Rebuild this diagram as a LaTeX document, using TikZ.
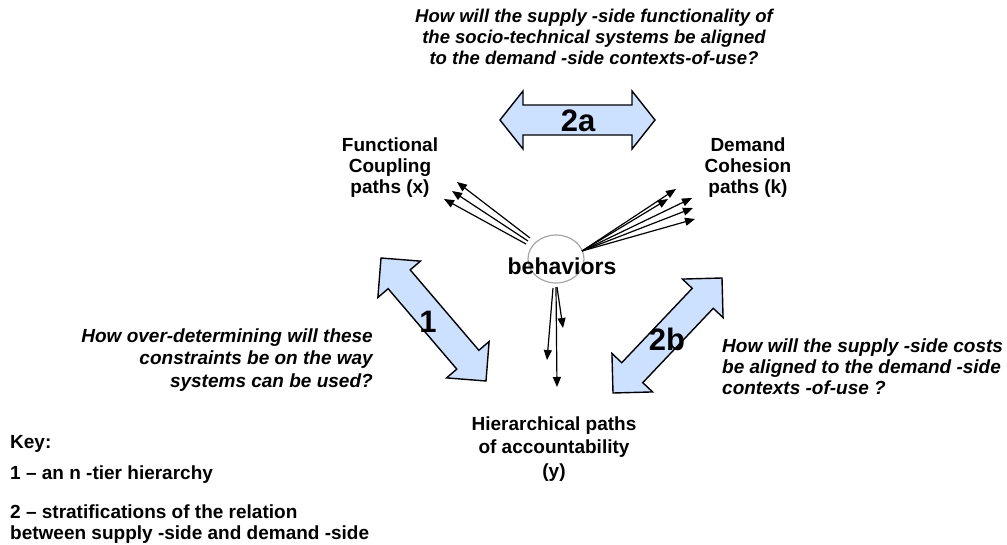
\documentclass[tikz,border=0pt]{standalone}
\usepackage{fontspec}
\setmainfont{Liberation Sans}
\usetikzlibrary{calc,arrows.meta,shapes.geometric}
\definecolor{blk}{RGB}{204,224,255}
\tikzset{
  lbl/.style={font=\fontsize{19}{21}\selectfont\bfseries, align=center, inner sep=0pt},
  qst/.style={font=\fontsize{19}{22.5}\selectfont\bfseries\itshape, inner sep=0pt},
  keytxt/.style={font=\fontsize{19}{22}\selectfont\bfseries, anchor=base west, inner sep=0pt},
  num/.style={font=\fontsize{31}{31}\selectfont\bfseries, inner sep=0pt},
  thinarr/.style={-{Triangle[length=10pt,width=8pt]}, line width=1.2pt},
  block/.style={fill=blk, draw=black, line width=1.4pt, line join=miter},
}
\newcommand{\blockarrow}[4]{%
  \coordinate (#1ca) at ($(#1a)!#2!(#1b)$);
  \coordinate (#1cb) at ($(#1b)!#2!(#1a)$);
  \draw[block] (#1a) -- ($(#1ca)!#3!90:(#1b)$) -- ($(#1ca)!#4!90:(#1b)$)
    -- ($(#1cb)!#4!-90:(#1a)$) -- ($(#1cb)!#3!-90:(#1a)$) -- (#1b)
    -- ($(#1cb)!#3!90:(#1a)$) -- ($(#1cb)!#4!90:(#1a)$)
    -- ($(#1ca)!#4!-90:(#1b)$) -- ($(#1ca)!#3!-90:(#1b)$) -- cycle;
}
\begin{document}
\begin{tikzpicture}[x=1pt,y=-1pt]
\useasboundingbox (0,0) rectangle (1007,544);

% block arrows
\coordinate (twoaa) at (500,120);
\coordinate (twoab) at (655,120);
\blockarrow{twoa}{23pt}{29pt}{15pt}
\coordinate (onea) at (381,258);
\coordinate (oneb) at (486,381);
\blockarrow{one}{28pt}{28pt}{14.5pt}
\coordinate (twoba) at (613,393);
\coordinate (twobb) at (722,278);
\blockarrow{twob}{28pt}{28pt}{14.5pt}

\node[num] (l2a) at (578,121) {2a};
\node[num] (l1) at (428,322) {1};
\node[num] (l2b) at (667,339) {2b};

% behaviors
\node[ellipse, draw=black!35, line width=1.2pt, minimum width=56pt, minimum height=48pt, inner sep=0pt] (ell) at (556,259) {};
\node[font=\fontsize{23}{23}\selectfont\bfseries, inner sep=0pt] (beh) at (562,266) {behaviors};

% thin arrows to the left
\coordinate (sl1) at (530,238);
\coordinate (sl2) at (528,241);
\coordinate (sl3) at (526,244);
\coordinate (tl1) at (457,182);
\coordinate (tl2) at (452,191);
\coordinate (tl3) at (444,199);
\draw[thinarr] (sl1) -- (tl1);
\draw[thinarr] (sl2) -- (tl2);
\draw[thinarr] (sl3) -- (tl3);

% thin arrows to the right
\coordinate (sr) at (582,251);
\coordinate (tr1) at (676,189);
\coordinate (tr2) at (668,199);
\coordinate (tr3) at (692,198);
\coordinate (tr4) at (693,208);
\coordinate (tr5) at (695,219);
\foreach \t in {tr1,tr2,tr3,tr4,tr5} \draw[thinarr] (sr) -- (\t);

% thin arrows downwards
\coordinate (sd1) at (553,288);
\coordinate (sd2) at (557,287);
\coordinate (sd3) at (556,287);
\coordinate (td1) at (547,360);
\coordinate (td2) at (563,328);
\coordinate (td3) at (557,387);
\draw[thinarr] (sd1) -- (td1);
\draw[thinarr] (sd2) -- (td2);
\draw[thinarr] (sd3) -- (td3);

% labels
\node[lbl] (func) at (390,168) {Functional\\Coupling\\paths (x)};
\node[lbl] (dem) at (748,168) {Demand\\Cohesion\\paths (k)};
\node[lbl, font=\fontsize{19}{23.5}\selectfont\bfseries] (hier) at (554,449) {Hierarchical paths\\of accountability\\(y)};

% questions
\node[qst, font=\fontsize{18.5}{21}\selectfont\bfseries\itshape, align=center] (qtop) at (594,37) {How will the  supply -side functionality  of\\the socio-technical systems  be  aligned\\to the demand -side contexts-of-use?};
\node[qst, align=right, anchor=east] (qleft) at (373,360) {How over-determining will these\\constraints be on the way\\systems can be used?};
\node[qst, font=\fontsize{19}{21}\selectfont\bfseries\itshape, align=left, anchor=west] (qright) at (722,367) {How will the  supply -side costs\\be aligned to the  demand -side\\contexts -of-use ?};

% key
\node[keytxt] (key) at (10,448.5) {Key:};
\node[keytxt] (k1) at (10,479.5) {1 – an n -tier hierarchy};
\node[keytxt] (k2) at (10,518) {2 – stratifications of the relation};
\node[keytxt] (k3) at (10,539.5) {between supply -side and demand -side};
\end{tikzpicture}
\end{document}
